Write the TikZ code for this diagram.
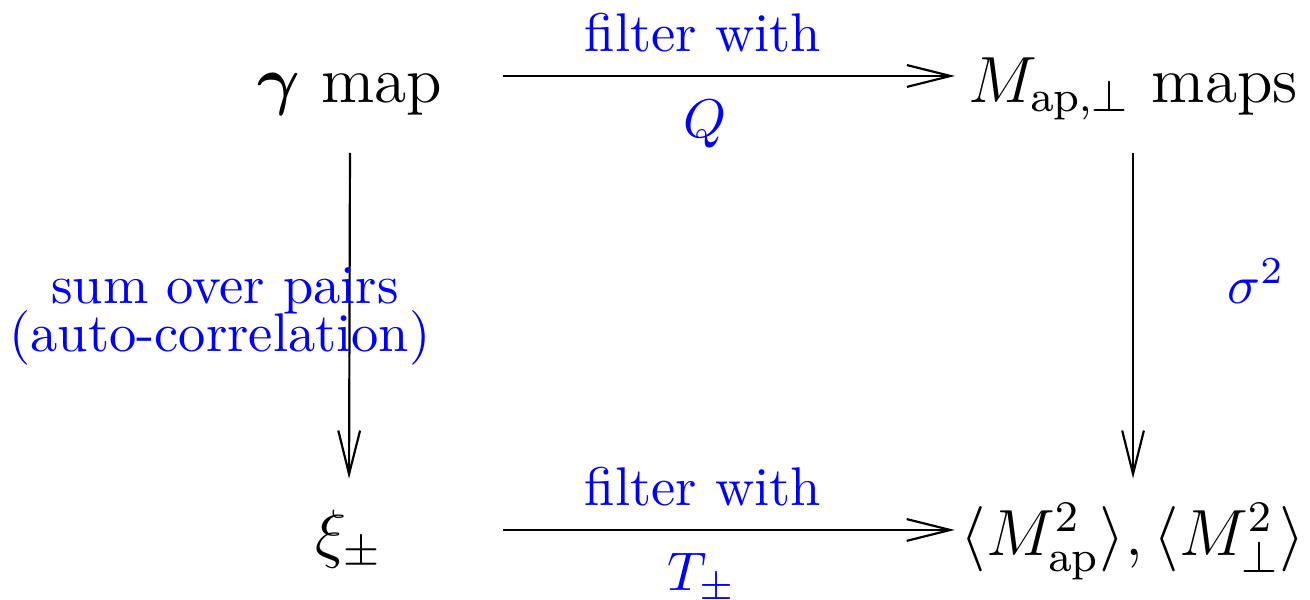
\documentclass[tikz,border=0pt]{standalone}
\usepackage{xcolor}
\usepackage{tikz}
\usepackage{amsmath}
\usetikzlibrary{arrows.meta}
\definecolor{lblblue}{HTML}{0000FF}

\begin{document}
\begin{tikzpicture}[x=1cm,y=1cm,
  obj/.style={font=\large,inner sep=0pt,anchor=base},
  lbl/.style={text=lblblue,inner sep=0pt,anchor=base},
  arr/.style={-{Straight Barb[length=8pt,width=4pt]},line width=0.4pt}]
  \useasboundingbox (0,0) rectangle (8.452,3.865);
  % corners of the square
  \node[obj] (gmap) at (2.258,3.206) {$\boldsymbol{\gamma}$ map};
  \node[obj] (mmap) at (7.310,3.206) {$M_{\mathrm{ap},\perp}$ maps};
  \node[obj] (xi) at (2.252,0.284) {$\xi_\pm$};
  \node[obj] (mavg) at (7.310,0.284) {$\langle M_{\mathrm{ap}}^2\rangle,\langle M_\perp^2\rangle$};
  % arrows
  \draw[arr] ([shift={(11pt,4.8pt)}]gmap.base east) -- ([shift={(-2.2pt,4.8pt)}]mmap.base west);
  \draw[arr] ([shift={(21.9pt,4.6pt)}]xi.base east) -- ([shift={(-0.9pt,4.6pt)}]mavg.base west);
  \draw[arr] ([yshift=-6.8pt]gmap.south) -- ([yshift=5.5pt]xi.north);
  \draw[arr] ([yshift=-6.8pt]gmap.south -| mmap.south) -- ([yshift=5.5pt]xi.north -| mmap.south);
  % labels
  \node[lbl] (fq) at (4.535,3.535) {filter with};
  \node[lbl] (q) at (4.548,2.981) {$Q$};
  \node[lbl] (ft) at (4.535,0.606) {filter with};
  \node[lbl] (t) at (4.529,0.058) {$T_\pm$};
  \node[lbl] (sig) at (8.103,1.910) {$\sigma^2$};
  \node[lbl] (sumA) at (1.452,1.910) {sum over pairs};
  \node[lbl] (sumB) at (1.419,1.594) {(auto-correlation)};
\end{tikzpicture}
\end{document}
